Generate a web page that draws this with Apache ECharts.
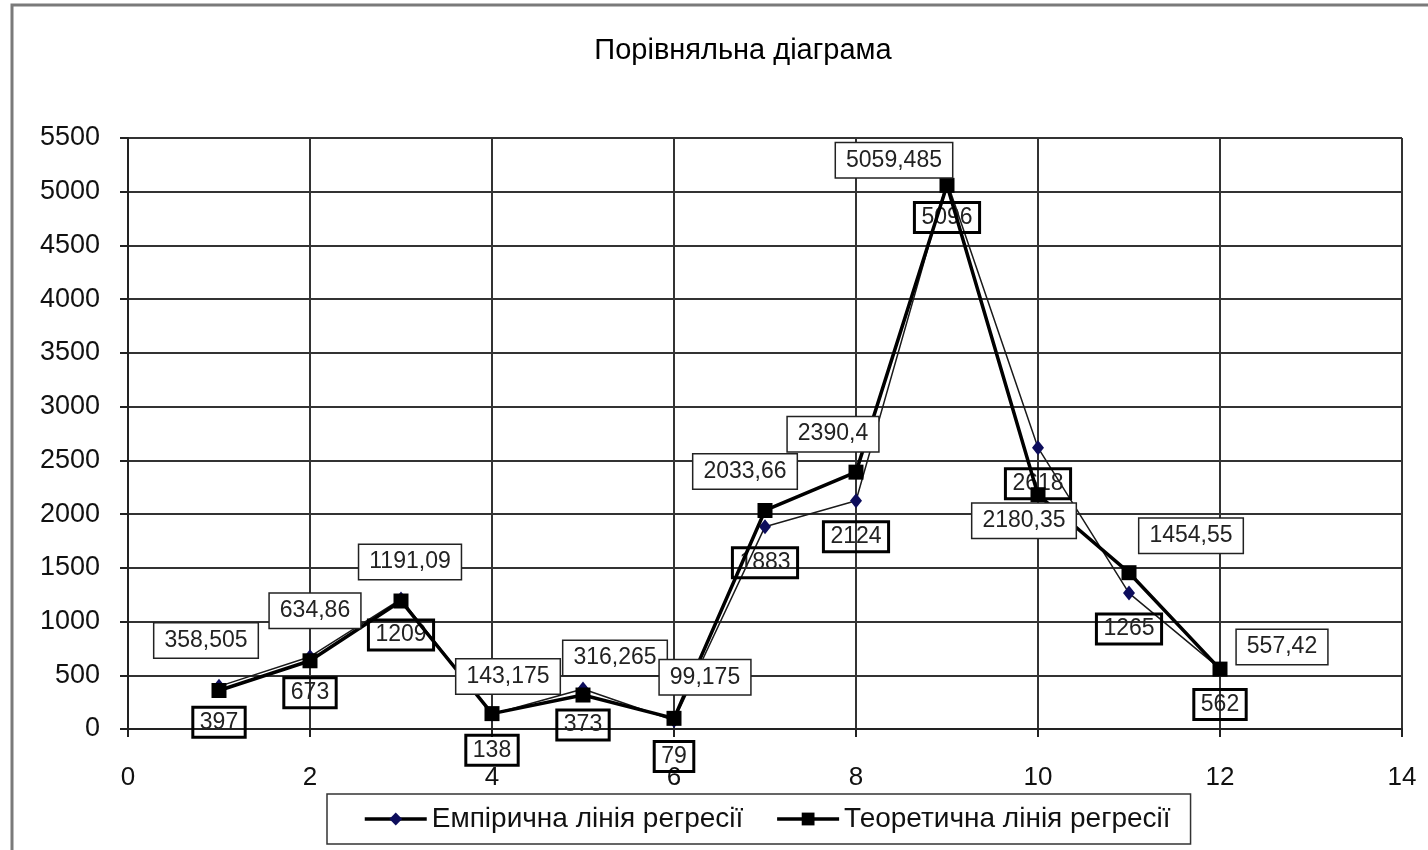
<!DOCTYPE html>
<html>
<head>
<meta charset="utf-8">
<title>Порівняльна діаграма</title>
<script src="https://cdn.jsdelivr.net/npm/echarts@6/dist/echarts.min.js"></script>
<style>
  html, body { margin: 0; padding: 0; background: #fff; }
  #chart { width: 1428px; height: 850px; }
</style>
</head>
<body>
<div id="chart"></div>
<script>
// точки по осі X
const xValues = [1, 2, 3, 4, 5, 6, 7, 8, 9, 10, 11, 12]
// емпірична лінія регресії
const empirical = [397, 673, 1209, 138, 373, 79, 1883, 2124, 5096, 2618, 1265, 562]
// теоретична лінія регресії
const theoretical = [358.505, 634.86, 1191.09, 143.175, 316.265, 99.175, 2033.66, 2390.4, 5059.485, 2180.35, 1454.55, 557.42]

// зсув підписів теоретичної лінії (лише розташування)
const theoLabelShift = [
  [-13, -50], [5, -50], [9, -39], [16, -37], [32, -37], [31, -41],
  [-20, -39], [-23, -38], [-53, -25], [-14, 26], [62, -37], [62, -22]
]

const fmt = v => String(v).replace('.', ',')
const FONT = '"Liberation Sans", Arial, sans-serif'

const chart = echarts.init(document.getElementById('chart'))

chart.setOption({
  animation: false,
  backgroundColor: '#fff',
  textStyle: { fontFamily: FONT, color: '#000' },
  graphic: [{
    type: 'rect',
    shape: { x: 12, y: 5, width: 1430, height: 870 },
    style: { fill: 'none', stroke: '#7a7a7a', lineWidth: 3 },
    silent: true,
    z: -1
  }],
  title: {
    text: 'Порівняльна діаграма',
    left: 738,
    top: 31,
    textAlign: 'center',
    textStyle: { fontFamily: FONT, fontSize: 29, fontWeight: 'normal', color: '#000' }
  },
  grid: { left: 128, right: 26, top: 138, bottom: 121 },
  xAxis: {
    type: 'value',
    min: 0,
    max: 14,
    interval: 2,
    axisLine: { lineStyle: { color: '#222', width: 2 } },
    axisTick: { show: true, length: 8, lineStyle: { color: '#222', width: 2 } },
    axisLabel: { margin: 36, fontSize: 26, color: '#111', fontFamily: FONT },
    splitLine: { show: true, lineStyle: { color: '#333', width: 2 } }
  },
  yAxis: {
    type: 'value',
    min: 0,
    max: 5500,
    interval: 500,
    axisLine: { show: true, lineStyle: { color: '#222', width: 2 } },
    axisTick: { show: true, length: 8, lineStyle: { color: '#222', width: 2 } },
    axisLabel: { margin: 28, fontSize: 27, color: '#111', fontFamily: FONT, formatter: v => String(v) },
    splitLine: { show: true, lineStyle: { color: '#333', width: 2 } }
  },
  legend: {
    left: 327,
    top: 794,
    padding: [11, 20, 11, 36],
    itemGap: 32,
    itemWidth: 62,
    itemHeight: 16,
    borderColor: '#333',
    borderWidth: 1.5,
    lineStyle: { color: '#000', width: 3.5 },
    textStyle: { fontSize: 28, color: '#111', fontFamily: FONT },
    data: ['Емпірична лінія регресії', 'Теоретична лінія регресії']
  },
  series: [
    {
      name: 'Емпірична лінія регресії',
      type: 'line',
      data: xValues.map((x, i) => [x, empirical[i]]),
      symbol: 'diamond',
      symbolSize: [12, 15],
      itemStyle: { color: '#0d0d5c' },
      lineStyle: { color: '#1a1a1a', width: 1.5 },
      label: {
        show: true,
        position: 'inside',
        offset: [0, 36],
        formatter: p => fmt(p.value[1]),
        fontSize: 23,
        color: '#222',
        fontFamily: FONT,
        padding: [4, 7, 3, 7],
        borderColor: '#000',
        borderWidth: 3
      },
      z: 2
    },
    {
      name: 'Теоретична лінія регресії',
      type: 'line',
      data: xValues.map((x, i) => ({
        value: [x, theoretical[i]],
        label: { offset: theoLabelShift[i] }
      })),
      symbol: 'rect',
      symbolSize: 15,
      itemStyle: { color: '#000' },
      lineStyle: { color: '#000', width: 3.5 },
      label: {
        show: true,
        position: 'inside',
        formatter: p => fmt(p.value[1]),
        fontSize: 23,
        color: '#222',
        fontFamily: FONT,
        backgroundColor: '#fff',
        padding: [6, 10, 5, 10],
        borderColor: '#222',
        borderWidth: 1.5
      },
      z: 3
    }
  ]
})
</script>
</body>
</html>
